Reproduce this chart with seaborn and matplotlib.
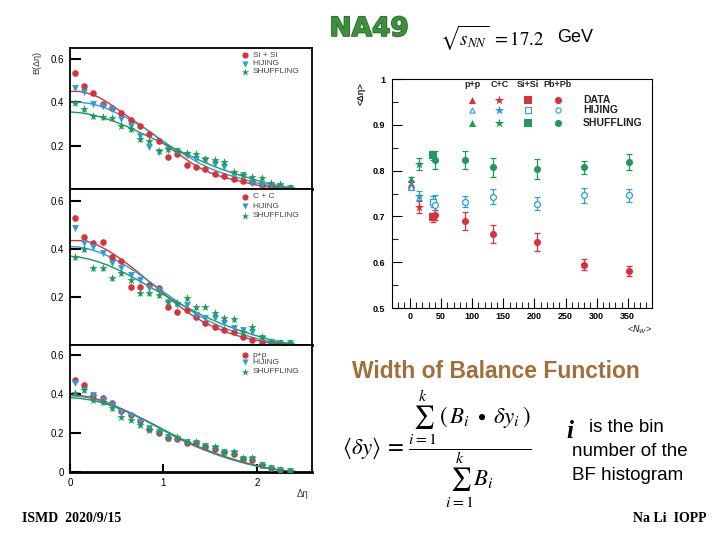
import numpy as np
import pandas as pd
import matplotlib
matplotlib.use("Agg")
import matplotlib.pyplot as plt
import matplotlib.patheffects as pe
import seaborn as sns

sns.set_theme(style="white")
plt.rcParams['font.family'] = ['Liberation Sans', 'DejaVu Sans']

RED = "#d8323c"
BLUE = "#2a9fd6"
GREEN = "#1e9a5a"

# ---------------- left panels: B(delta eta) ----------------
eta_bins = [0.05, 0.15, 0.25, 0.35, 0.45, 0.55, 0.65, 0.75, 0.85, 0.95, 1.05, 1.15,
            1.25, 1.35, 1.45, 1.55, 1.65, 1.75, 1.85, 1.95, 2.05, 2.15, 2.25, 2.35]
eta_fit = [0.0, 0.1, 0.2, 0.3, 0.4, 0.5, 0.6, 0.7, 0.8, 0.9, 1.0, 1.1, 1.2,
           1.3, 1.4, 1.5, 1.6, 1.7, 1.8, 1.9, 2.0, 2.1, 2.2, 2.3, 2.4]

sisi_data = [0.533, 0.476, 0.442, 0.390, 0.374, 0.351, 0.317, 0.290, 0.253, 0.220, 0.147, 0.162,
             0.109, 0.100, 0.090, 0.070, 0.060, 0.045, 0.035, 0.030, 0.020, 0.015, 0.010, 0.005]
sisi_hij = [0.465, 0.447, 0.392, 0.382, 0.367, 0.321, 0.291, 0.245, 0.192, 0.170, 0.180, 0.177,
            0.155, 0.140, 0.132, 0.117, 0.101, 0.071, 0.064, 0.026, 0.018, 0.015, 0.010, 0.005]
sisi_shf = [0.397, 0.367, 0.336, 0.332, 0.329, 0.291, 0.276, 0.230, 0.223, 0.177, 0.185, 0.177,
            0.165, 0.162, 0.139, 0.135, 0.124, 0.079, 0.064, 0.056, 0.053, 0.026, 0.022, 0.005]
sisi_fit_data = [0.450, 0.450, 0.440, 0.425, 0.400, 0.370, 0.340, 0.310, 0.280, 0.250, 0.210, 0.180, 0.150,
                 0.120, 0.095, 0.075, 0.060, 0.048, 0.038, 0.028, 0.018, 0.011, 0.007, 0.004, 0.002]
sisi_fit_hij = [0.400, 0.400, 0.395, 0.385, 0.370, 0.350, 0.330, 0.305, 0.280, 0.250, 0.220, 0.190, 0.165,
                0.140, 0.115, 0.095, 0.078, 0.064, 0.052, 0.040, 0.028, 0.019, 0.012, 0.006, 0.003]
sisi_fit_shf = [0.355, 0.352, 0.345, 0.335, 0.322, 0.307, 0.290, 0.270, 0.250, 0.230, 0.210, 0.190, 0.170,
                0.150, 0.130, 0.112, 0.095, 0.080, 0.066, 0.053, 0.040, 0.028, 0.018, 0.010, 0.004]

cc_data = [0.528, 0.451, 0.424, 0.430, 0.368, 0.348, 0.243, 0.243, 0.250, 0.237, 0.160, 0.138,
           0.145, 0.118, 0.090, 0.076, 0.063, 0.056, 0.035, 0.021, 0.010, 0.007, 0.004, 0.002]
cc_hij = [0.486, 0.426, 0.407, 0.382, 0.340, 0.320, 0.290, 0.270, 0.236, 0.229, 0.180, 0.167,
          0.167, 0.125, 0.111, 0.111, 0.090, 0.069, 0.063, 0.056, 0.028, 0.014, 0.010, 0.007]
cc_shf = [0.368, 0.399, 0.320, 0.320, 0.278, 0.299, 0.271, 0.215, 0.218, 0.208, 0.180, 0.176,
          0.194, 0.157, 0.160, 0.132, 0.111, 0.107, 0.056, 0.076, 0.035, 0.014, 0.010, 0.007]
cc_fit_data = [0.435, 0.435, 0.430, 0.415, 0.395, 0.370, 0.342, 0.312, 0.280, 0.248, 0.215, 0.183, 0.153,
               0.126, 0.102, 0.082, 0.065, 0.050, 0.038, 0.028, 0.019, 0.012, 0.007, 0.004, 0.002]
cc_fit_hij = [0.410, 0.408, 0.400, 0.388, 0.372, 0.352, 0.330, 0.305, 0.278, 0.250, 0.222, 0.194, 0.167,
              0.142, 0.118, 0.097, 0.079, 0.063, 0.050, 0.038, 0.027, 0.018, 0.011, 0.006, 0.003]
cc_fit_shf = [0.370, 0.366, 0.358, 0.347, 0.333, 0.316, 0.297, 0.276, 0.254, 0.232, 0.210, 0.188, 0.167,
              0.147, 0.127, 0.109, 0.092, 0.077, 0.063, 0.050, 0.038, 0.027, 0.017, 0.009, 0.004]

pp_data = [0.472, 0.446, 0.395, 0.378, 0.352, 0.310, 0.290, 0.260, 0.220, 0.200, 0.175, 0.170,
           0.150, 0.150, 0.130, 0.120, 0.100, 0.090, 0.065, 0.060, 0.035, 0.020, 0.010, 0.005]
pp_hij = [0.455, 0.420, 0.395, 0.369, 0.343, 0.305, 0.285, 0.255, 0.225, 0.205, 0.180, 0.170,
          0.155, 0.150, 0.135, 0.125, 0.100, 0.095, 0.068, 0.065, 0.035, 0.020, 0.010, 0.005]
pp_shf = [0.403, 0.420, 0.369, 0.356, 0.326, 0.284, 0.267, 0.241, 0.215, 0.207, 0.173, 0.181,
          0.156, 0.156, 0.133, 0.130, 0.104, 0.104, 0.070, 0.070, 0.036, 0.019, 0.010, 0.005]
pp_fit_data = [0.395, 0.392, 0.385, 0.372, 0.355, 0.335, 0.313, 0.290, 0.266, 0.240, 0.213, 0.187, 0.163,
               0.140, 0.120, 0.101, 0.084, 0.068, 0.054, 0.041, 0.030, 0.020, 0.012, 0.006, 0.003]
pp_fit_hij = [0.390, 0.387, 0.380, 0.368, 0.352, 0.333, 0.312, 0.290, 0.266, 0.241, 0.215, 0.190, 0.166,
              0.143, 0.122, 0.103, 0.086, 0.070, 0.056, 0.043, 0.031, 0.021, 0.013, 0.007, 0.003]
pp_fit_shf = [0.380, 0.377, 0.370, 0.360, 0.346, 0.329, 0.310, 0.289, 0.266, 0.242, 0.217, 0.192, 0.168,
              0.146, 0.125, 0.106, 0.089, 0.073, 0.058, 0.045, 0.033, 0.022, 0.014, 0.007, 0.003]

left_labels = ["Si + Si", "C + C", "p+p"]
model_labels = ["HIJING", "SHUFFLING"]
point_err = 0.012

# ---------------- right panel: width <delta eta> ----------------
sys_names = ["p+p", "C+C", "Si+Si", "Pb+Pb"]
nw = [1, 15, 37, 40, 89, 134, 204, 280, 352]
nw_sys = ["p+p", "C+C", "Si+Si", "Pb+Pb", "Pb+Pb", "Pb+Pb", "Pb+Pb", "Pb+Pb", "Pb+Pb"]
data_val = [0.770, 0.720, 0.698, 0.703, 0.690, 0.662, 0.644, 0.594, 0.581]
data_err = [0.007, 0.013, 0.010, 0.010, 0.020, 0.020, 0.019, 0.012, 0.011]
hij_val = [0.765, 0.745, 0.732, 0.724, 0.732, 0.743, 0.728, 0.746, 0.746]
hij_err = [0.004, 0.010, 0.012, 0.022, 0.012, 0.017, 0.014, 0.016, 0.014]
shf_val = [0.781, 0.814, 0.833, 0.823, 0.823, 0.807, 0.804, 0.807, 0.819]
shf_err = [0.005, 0.013, 0.010, 0.020, 0.020, 0.020, 0.022, 0.015, 0.018]
right_models = ["DATA", "HIJING", "SHUFFLING"]
x_ticks_right = [0, 50, 100, 150, 200, 250, 300, 350]
y_ticks_right = [0.5, 0.6, 0.7, 0.8, 0.9, 1.0]
y_ticklabels_right = ["0.5", "0.6", "0.7", "0.8", "0.9", "1"]

W, H = 720, 540
fig = plt.figure(figsize=(7.2, 5.4), dpi=100)
fig.patch.set_facecolor("white")


def fx(px):
    return px / W


def fy(py):
    return 1 - py / H


# ---------- left stacked panels ----------
panel_px = [(48, 189), (189, 345), (345, 472)]
left_sets = [
    (sisi_data, sisi_hij, sisi_shf, sisi_fit_data, sisi_fit_hij, sisi_fit_shf),
    (cc_data, cc_hij, cc_shf, cc_fit_data, cc_fit_hij, cc_fit_shf),
    (pp_data, pp_hij, pp_shf, pp_fit_data, pp_fit_hij, pp_fit_shf),
]
legend_rows = [(0.95, 0.89, 0.83), (0.95, 0.89, 0.83), (0.92, 0.865, 0.79)]

axes_left = []
for i, ((top, bot), sets) in enumerate(zip(panel_px, left_sets)):
    ax = fig.add_axes([fx(70), fy(bot), fx(312) - fx(70), (bot - top) / H])
    axes_left.append(ax)
    d, h, s, fd, fh, fs = sets
    for fit, col in [(fd, RED), (fh, BLUE), (fs, GREEN)]:
        sns.lineplot(x=eta_fit, y=fit, color=col, lw=1.0, ax=ax, legend=False)
    for vals, col, mk, sz in [(d, RED, "o", 22), (h, BLUE, "v", 24), (s, GREEN, "*", 40)]:
        ax.errorbar(eta_bins, vals, yerr=point_err, fmt="none", ecolor=col, elinewidth=0.8)
        sns.scatterplot(x=eta_bins, y=vals, color=col, marker=mk, s=sz, linewidth=0,
                        ax=ax, legend=False, zorder=3)
    ax.set_xlim(0, 2.59)
    ax.set_ylim(0, 0.65)
    ax.set_xlabel("")
    ax.set_ylabel("")
    for sp in ax.spines.values():
        sp.set_color("black")
        sp.set_linewidth(1.3)
    ax.spines["bottom"].set_linewidth(2.0)
    ax.tick_params(axis="y", direction="in", length=8, width=1.5, labelsize=7,
                   colors="black", left=True, pad=4)
    if i < 2:
        ax.set_yticks([0.2, 0.4, 0.6])
        ax.set_yticklabels(["0.2", "0.4", "0.6"])
        ax.set_xticks([])
    else:
        ax.set_yticks([0, 0.2, 0.4, 0.6])
        ax.set_yticklabels(["0", "0.2", "0.4", "0.6"])
        ax.set_xticks([0, 1, 2])
        ax.set_xticklabels(["0", "1", "2"])
        ax.tick_params(axis="x", direction="in", length=6, width=1.5, labelsize=7,
                       colors="black", bottom=True, pad=4)
    # small legend
    rows = legend_rows[i]
    labels = [left_labels[i]] + model_labels
    for yy, col, mk, lab in zip(rows, [RED, BLUE, GREEN], ["o", "v", "*"], labels):
        ax.scatter([0.725], [yy], transform=ax.transAxes, color=col, marker=mk,
                   s=20 if mk != "*" else 30, linewidths=0, clip_on=False, zorder=5)
        ax.text(0.755, yy, lab, transform=ax.transAxes, fontsize=6, color="#444444",
                va="center", ha="left")

fig.text(fx(37), fy(62), "B(\u0394\u03b7)", rotation=90, fontsize=6.5, ha="center",
         va="center", color="#333333")
fig.text(fx(303), fy(494), "\u0394\u03b7", fontsize=7, ha="center", va="center", color="#444444")

# ---------- right panel ----------
axr = fig.add_axes([fx(392), fy(308), fx(652) - fx(392), (308 - 79) / H])
df = pd.DataFrame({"nw": nw * 3,
                   "system": nw_sys * 3,
                   "value": data_val + hij_val + shf_val,
                   "err": data_err + hij_err + shf_err,
                   "model": [m for m in right_models for _ in nw]})
model_col = {"DATA": RED, "HIJING": BLUE, "SHUFFLING": GREEN}
sys_marker = {"p+p": "^", "C+C": "*", "Si+Si": "s", "Pb+Pb": "o"}
sys_size = {"p+p": 26, "C+C": 50, "Si+Si": 26, "Pb+Pb": 26}
open_set = {("HIJING", "p+p"), ("HIJING", "Si+Si"), ("HIJING", "Pb+Pb")}

for model in right_models:
    sub = df[df.model == model]
    col = model_col[model]
    axr.errorbar(sub.nw, sub.value, yerr=sub.err, fmt="none", ecolor=col,
                 elinewidth=0.9, capsize=2.3, capthick=0.9)
    for sysn in sys_names:
        ss = sub[sub.system == sysn]
        is_open = (model, sysn) in open_set
        sns.scatterplot(data=ss, x="nw", y="value", color=col, marker=sys_marker[sysn],
                        s=sys_size[sysn] if not is_open else 18, linewidth=0.9 if is_open else 0,
                        ax=axr, legend=False, zorder=4)
        if is_open:
            coll = axr.collections[-1]
            coll.set_facecolor("white")
            coll.set_edgecolor(col)

axr.set_xlim(-29, 389)
axr.set_ylim(0.5, 1.0)
axr.set_xlabel("")
axr.set_ylabel("")
axr.set_xticks(x_ticks_right)
axr.set_xticklabels([str(t) for t in x_ticks_right])
axr.set_xticks(list(range(-20, 390, 10)), minor=True)
axr.set_yticks(y_ticks_right)
axr.set_yticklabels(y_ticklabels_right)
axr.set_yticks([0.55, 0.65, 0.75, 0.85, 0.95], minor=True)
for sp in axr.spines.values():
    sp.set_color("black")
    sp.set_linewidth(0.8)
axr.tick_params(axis="both", which="major", direction="in", length=7, width=0.8,
                labelsize=6.5, colors="black", bottom=True, left=True, pad=5)
axr.tick_params(axis="x", which="major", pad=3)
axr.tick_params(axis="both", which="minor", direction="in", length=4, width=0.8,
                bottom=True, left=True)
for t in axr.get_xticklabels() + axr.get_yticklabels():
    t.set_fontweight("bold")

# legend block in right panel
hdr_x = [0.309, 0.413, 0.522, 0.637]
for xx, sysn in zip(hdr_x, sys_names):
    axr.text(xx, 0.975, sysn, transform=axr.transAxes, fontsize=6.5, ha="center",
             va="center", fontweight="bold", color="#222222")
row_y = [0.908, 0.865, 0.808]
for yy, model in zip(row_y, right_models):
    col = model_col[model]
    for xx, sysn in zip(hdr_x, sys_names):
        is_open = (model, sysn) in open_set
        axr.scatter([xx], [yy], transform=axr.transAxes, marker=sys_marker[sysn],
                    s=(sys_size[sysn] if not is_open else 14),
                    facecolor=("white" if is_open else col), edgecolor=col,
                    linewidths=(0.8 if is_open else 0), clip_on=False, zorder=5)
    axr.text(0.735, yy, model, transform=axr.transAxes, fontsize=7.5, ha="left",
             va="center", fontweight="bold", color="#222222")

fig.text(fx(361), fy(94), "<\u0394\u03b7>", rotation=90, fontsize=6.5, ha="center",
         va="center", fontweight="bold", color="#222222")
fig.text(fx(640), fy(330), "<$N_W$>", fontsize=6.5, ha="center", va="center", color="#222222")

# ---------- slide texts ----------
fig.text(fx(369), fy(29), "NA49", fontsize=19, fontweight="bold", color="#3d8f3d",
         ha="center", va="center", family="DejaVu Sans",
         path_effects=[pe.withStroke(linewidth=1.2, foreground="#2a6a2a")])
fig.text(fx(440), fy(38), r"$\sqrt{s_{NN}}\;=17.2$", fontsize=13.5, ha="left", va="center",
         math_fontfamily="stix", color="black")
fig.text(fx(557), fy(38), "GeV", fontsize=13, ha="left", va="center", color="black")

fig.text(fx(496), fy(372), "Width of Balance Function", fontsize=16.5, fontweight="bold",
         color="#a0703a", ha="center", va="center")

fig.text(fx(342), fy(449),
         r"$\langle \delta y\rangle \,=\, \dfrac{\sum_{i=1}^{k}\,(\,B_i \;\bullet\; \delta y_i\,)}{\sum_{i=1}^{k} B_i}$",
         fontsize=16.5, ha="left", va="center", math_fontfamily="stix", color="black")

fig.text(fx(566), fy(432), "i", fontsize=18, fontweight="bold", fontstyle="italic",
         family="Liberation Serif", ha="left", va="center", color="black")
fig.text(fx(589), fy(428), "is the bin", fontsize=13.5, ha="left", va="center", color="black")
fig.text(fx(572), fy(452), "number of the", fontsize=13.5, ha="left", va="center", color="black")
fig.text(fx(572), fy(476), "BF histogram", fontsize=13.5, ha="left", va="center", color="black")

fig.text(fx(22), fy(519), "ISMD  2020/9/15", fontsize=10, fontweight="bold",
         family="Liberation Serif", ha="left", va="center", color="black")
fig.text(fx(633), fy(519), "Na Li  IOPP", fontsize=10, fontweight="bold",
         family="Liberation Serif", ha="left", va="center", color="black")

fig.savefig("out.png", dpi=100, facecolor="white")
